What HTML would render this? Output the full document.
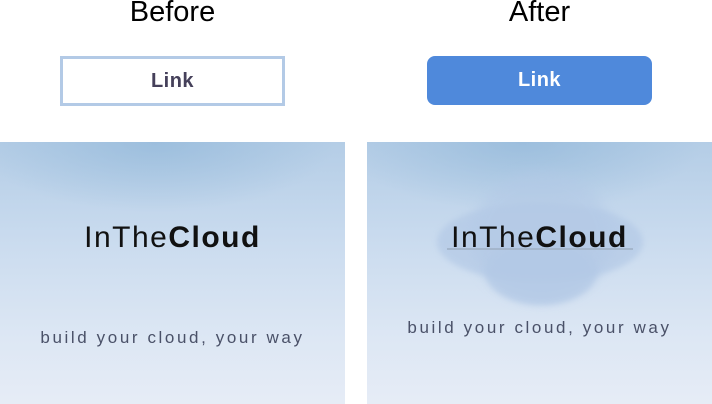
<!DOCTYPE html>
<html><head><style>
body{margin:0;width:712px;height:404px;background:#fff;position:relative;overflow:hidden;font-family:"Liberation Sans",sans-serif}
.t{position:absolute;top:-4px;font-size:29px;color:#000;width:345px;text-align:center}
.b{position:absolute;top:56px;width:225px;height:50px;box-sizing:border-box;font-size:20px;font-weight:bold;display:flex;align-items:center;justify-content:center;letter-spacing:.5px}
.p{position:absolute;top:142px;width:345px;height:262px;background:
radial-gradient(ellipse 180px 70px at 45% 0%,rgba(140,180,215,.6),rgba(140,180,215,0)),
linear-gradient(180deg,#b4cde6 0%,#cbdcef 40%,#dde7f4 75%,#e6ecf6 100%);overflow:hidden}
.l{position:absolute;width:345px;text-align:center;font-size:30px;letter-spacing:1.5px;color:#111}
.s{position:absolute;width:345px;text-align:center;font-size:17px;letter-spacing:2.6px;color:#4a5168}
</style></head><body>
<div class="t" style="left:0">Before</div>
<div class="t" style="left:367px">After</div>
<div class="b" style="left:60px;border:3px solid #b3cae6;color:#45405a">Link</div>
<div class="b" style="left:427px;height:49px;background:#4f89db;border-radius:8px;color:#fff">Link</div>
<div class="p" style="left:0">
<div class="l" style="top:79px">InThe<b>Cloud</b></div>
<div class="s" style="top:186px">build your cloud, your way</div>
</div>
<div class="p" style="left:367px">
<div style="position:absolute;left:70px;top:60px;width:206px;height:80px;border-radius:50%;background:#b3c9e6;opacity:.7;filter:blur(3px)"></div>
<div style="position:absolute;left:105px;top:30px;width:140px;height:130px;border-radius:50%;background:#b3c9e6;opacity:.55;filter:blur(6px)"></div>
<div style="position:absolute;left:118px;top:95px;width:112px;height:68px;border-radius:50%;background:#b3c9e6;opacity:.75;filter:blur(3px)"></div>
<div style="position:absolute;left:80px;top:106px;width:186px;height:2px;background:#a4b6cc"></div>
<div class="l" style="top:79px">InThe<b>Cloud</b></div>
<div class="s" style="top:176px">build your cloud, your way</div>
</div>
</body></html>
